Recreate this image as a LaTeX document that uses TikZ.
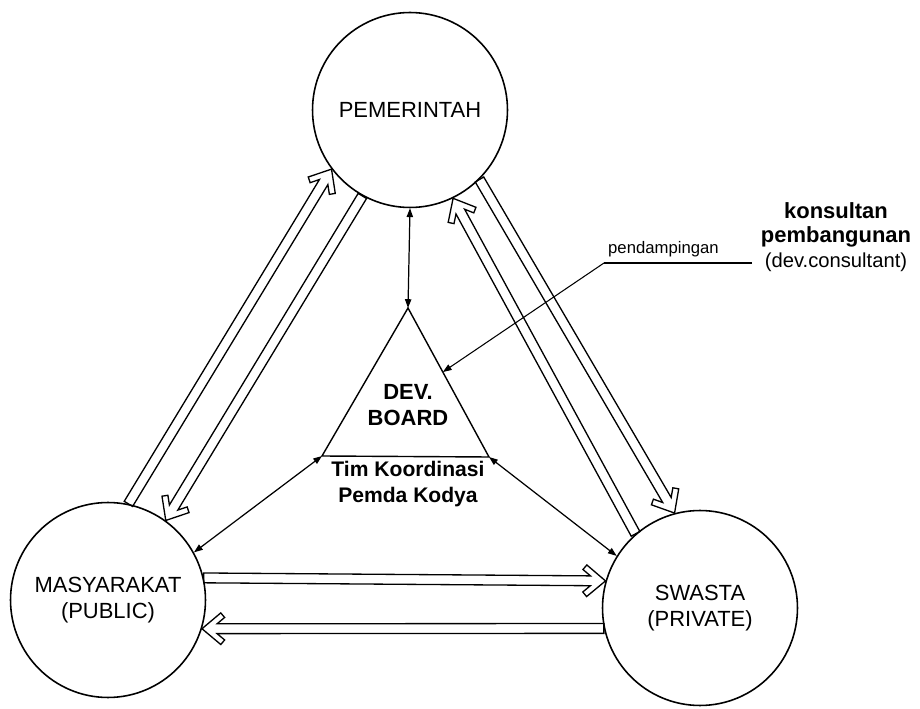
\documentclass[tikz,border=0pt]{standalone}
\usepackage{fontspec}
\setmainfont{Liberation Sans}
\usetikzlibrary{arrows.meta,calc}

\tikzset{
  party/.style={draw, circle, line width=0.9pt, minimum size=3.9cm, inner sep=0pt, align=center,
    font=\fontsize{12.5}{15}\selectfont},
  boardtext/.style={align=center, font=\bfseries\fontsize{12.5}{14.6}\selectfont},
  thinarrow/.style={line width=0.7pt, {Triangle[length=5pt,width=3.6pt]}-{Triangle[length=5pt,width=3.6pt]}},
  hollow/.style={line width=0.75pt, line join=miter}
}

\newcommand{\hollowarrow}[2]{%
  \path let \p1=(#1), \p2=(#2) in
    \pgfextra{\pgfmathsetmacro\hang{atan2(\y2-\y1,\x2-\x1)}%
      \pgfmathsetlengthmacro\hlen{veclen(\x2-\x1,\y2-\y1)}%
      \xdef\harrowangle{\hang}\xdef\harrowlen{\hlen}};
  \begin{scope}[shift={(#1)}, rotate=\harrowangle]
    \draw[hollow] (0pt,2.8pt) -- (\harrowlen-8.6pt,2.8pt) -- (\harrowlen-12.9pt,6.4pt)
      -- (\harrowlen-10.7pt,9pt) -- (\harrowlen-0pt,0pt) -- (\harrowlen-10.7pt,-9pt)
      -- (\harrowlen-12.9pt,-6.4pt) -- (\harrowlen-8.6pt,-2.8pt) -- (0pt,-2.8pt) -- cycle;
  \end{scope}}

\begin{document}
\begin{tikzpicture}[x=0.02cm, y=-0.02cm]
	\useasboundingbox (0,0) rectangle (920,709);

	\node[party] (pem) at (410,110) {PEMERINTAH};
	\node[party] (masy) at (108,600) {MASYARAKAT\\(PUBLIC)};
	\node[party] (swa) at (700,608) {SWASTA\\(PRIVATE)};

	\coordinate (tA) at (408,308);
	\coordinate (tL) at (322,456);
	\coordinate (tR) at (489,457);
	\draw[line width=0.8pt, line join=miter] (tA) -- (tL) -- (tR) -- cycle;

	\node[boardtext] (board) at (408,405) {DEV.\\BOARD};
	\node[boardtext, font=\bfseries\fontsize{12}{15.3}\selectfont] (tim) at (408,484) {Tim Koordinasi\\Pemda Kodya};

	\draw[thinarrow] (pem.south) -- (tA);
	\draw[thinarrow] (tL) -- (masy.29);
	\draw[thinarrow] (tR) -- (swa.148);

	\hollowarrow{masy.78}{pem.-143}
	\hollowarrow{pem.-119}{masy.54}
	\hollowarrow{pem.-45}{swa.105}
	\hollowarrow{swa.131}{pem.-64}
	\hollowarrow{masy.13}{swa.164}
	\hollowarrow{swa.-168}{masy.-17}

	\node[anchor=base west, font=\fontsize{9.5}{11}\selectfont] (pend) at (602,254) {pendampingan};
	\coordinate (pendL) at (604,263);
	\coordinate (pendR) at (752,263);
	\coordinate (dv) at ($(tA)!0.43!(tR)$);
	\draw[line width=0.6pt] (pendR) -- (pendL);
	\draw[line width=0.6pt, -{Triangle[length=5pt,width=3.6pt]}] (pendL) -- (dv);

	\node[align=center, font=\fontsize{12.5}{14}\selectfont] (kons) at (836,237)
		{\textbf{konsultan}\\\textbf{pembangunan}\\{\fontsize{11.5}{14}\selectfont(dev.consultant)}};
\end{tikzpicture}
\end{document}
